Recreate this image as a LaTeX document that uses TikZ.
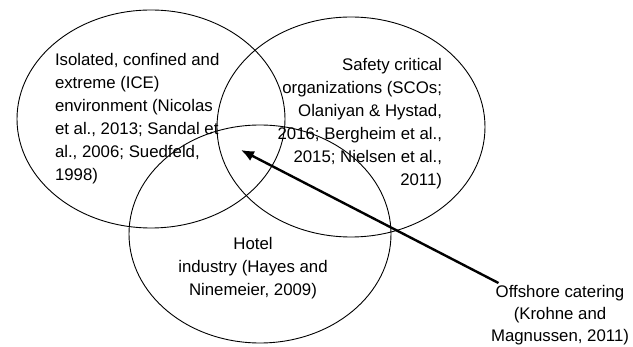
\documentclass[tikz,border=0pt]{standalone}
\usepackage{fontspec}
\setmainfont{Liberation Sans}
\usetikzlibrary{arrows.meta,shapes.geometric,positioning}

\begin{document}
\begin{tikzpicture}[x=1pt,y=-1pt,
    field/.style={ellipse,draw,line width=0.9pt,inner sep=0pt,outer sep=0pt},
    label/.style={inner sep=0pt,outer sep=0pt,font=\fontsize{16.8}{23}\selectfont},
    pointer/.style={-{Latex[length=13pt,width=11pt]},line width=2.4pt}]
    \useasboundingbox (0,0) rectangle (633,347);
    % the three overlapping fields
    \node[field,minimum width=268pt,minimum height=218pt] (ice) at (151,119) {};
    \node[field,minimum width=268pt,minimum height=220pt] (sco) at (351,127) {};
    \node[field,minimum width=262pt,minimum height=218pt] (hotel) at (260,234) {};
    % texts inside the fields
    \node[label,align=left,anchor=north west] (ice text) at (55,53)
    {Isolated, confined and\\extreme (ICE)\\environment (Nicolas\\et al., 2013; Sandal et\\al., 2006; Suedfeld,\\1998)};
    \node[label,align=right,anchor=north east] (sco text) at (442,58)
    {Safety critical\\organizations (SCOs;\\Olaniyan \& Hystad,\\2016; Bergheim et al.,\\2015; Nielsen et al.,\\2011)};
    \node[label,align=center,anchor=north] (hotel text) at (253,237)
    {Hotel\\industry (Hayes and\\Ninemeier, 2009)};
    % offshore catering points into the overlap
    \node[label,align=center,anchor=north,inner sep=2pt,
          font=\fontsize{16.8}{22}\selectfont] (offshore) at (560,283)
    {Offshore catering\\(Krohne and\\Magnussen, 2011)};
    \coordinate (overlap) at (241,150);
    \draw[pointer] (offshore) -- (overlap);
\end{tikzpicture}
\end{document}
